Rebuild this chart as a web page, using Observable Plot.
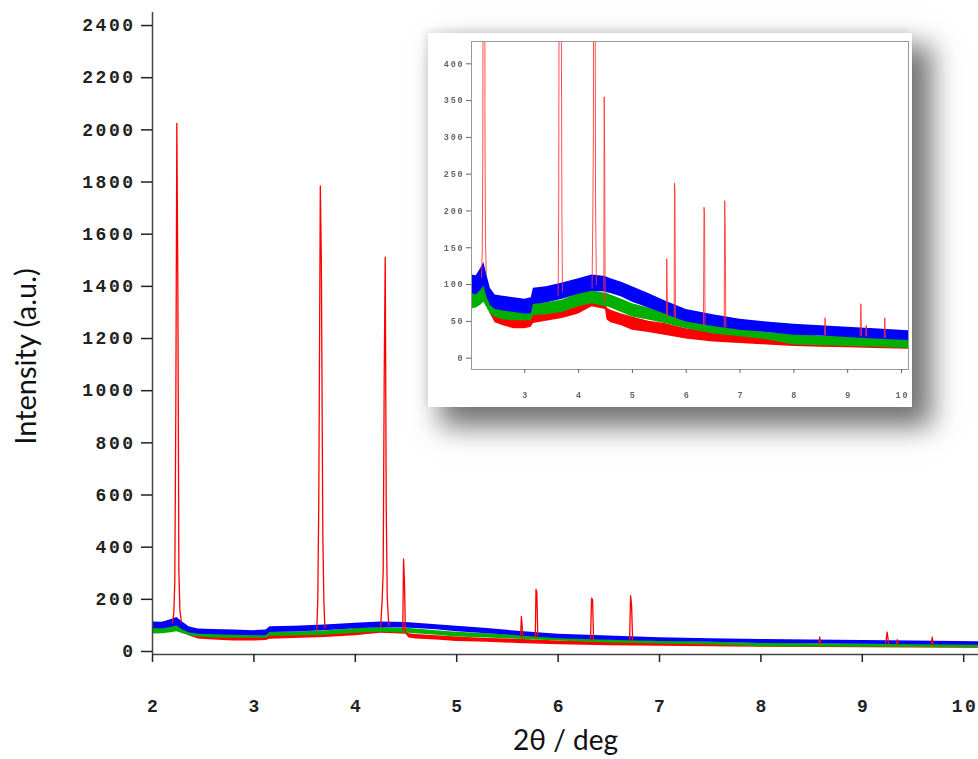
<!DOCTYPE html>
<html>
<head>
<meta charset="utf-8">
<script src="https://cdn.jsdelivr.net/npm/d3@7"></script>
<script src="https://cdn.jsdelivr.net/npm/@observablehq/plot@0.6"></script>
<style>
  body { margin: 0; background: #fff; }
  #wrap { position: relative; width: 978px; height: 759px; overflow: hidden; background: #fff; }
  #wrap > svg { position: absolute; left: 0; top: 0; }
  #inset {
    position: absolute; left: 428px; top: 33px; width: 484px; height: 374px;
    background: #fff;
    box-shadow: 16px 16px 26px 4px rgba(0,0,0,0.55), -3px -3px 6px rgba(0,0,0,0.08);
  }
  #inset svg { display: block; filter: blur(0.35px); }
</style>
</head>
<body>
<div id="wrap"><div id="inset"></div></div>
<script>
// ---- Data (2θ in degrees, intensity in a.u.) ----
const xGrid   = [2.00,2.10,2.18,2.24,2.30,2.36,2.45,2.60,2.80,3.00,3.12,3.16,3.40,3.70,4.00,4.25,4.50,4.53,4.60,4.80,5.00,5.30,5.60,6.00,6.50,7.00,7.50,8.00,8.50,9.00,9.50,10.15];
// noise envelopes (lower / upper) of each pattern
const blueLo  = [88,86,92,98,82,72,66,64,62,60,60,73,75,80,87,91,90,89,88,83,76,68,60,49,43,38,35,31,30,28,26,24];
const blueHi  = [113,112,122,130,112,95,86,84,82,80,82,95,97,102,108,113,111,110,108,103,97,88,78,66,59,53,49,46,44,42,40,37];
const greenLo = [67,68,72,76,68,60,56,52,51,51,51,58,59,62,70,74,70,70,68,62,56,52,47,40,33,29,25,18,17,16,15,13];
const greenHi = [88,90,96,100,90,78,72,68,67,66,67,74,75,79,88,92,88,88,86,80,74,68,62,54,45,40,35,32,30,29,28,26];
const redLo   = [85,92,100,110,80,60,48,44,40,40,42,47,50,54,60,70,66,52,48,44,38,35,31,26,22,20,18,16,15,14,13,12];
const redHi   = [102,112,120,125,105,80,64,58,56,58,58,65,66,70,79,88,84,68,65,60,56,50,47,40,35,33,31,30,28,27,26,25];
// Bragg reflections of the red pattern: [2θ, intensity] profile points
const redPeakProfiles = [
  [[2.195,110],[2.21,145],[2.22,270],[2.23,930],[2.24,2025],[2.25,1400],[2.26,310],[2.27,158],[2.285,115]],
  [[3.62,85],[3.63,196],[3.64,583],[3.655,1785],[3.665,1500],[3.68,437],[3.69,196],[3.70,90]],
  [[4.25,95],[4.265,200],[4.275,307],[4.285,1047],[4.295,1512],[4.305,556],[4.315,211],[4.33,100]],
  [[4.468,80],[4.476,355],[4.485,265],[4.494,75]],
  [[5.630,58],[5.638,135],[5.645,100],[5.652,58]],
  [[5.775,55],[5.782,238],[5.790,229],[5.800,55]],
  [[6.320,45],[6.330,205],[6.340,198],[6.350,45]],
  [[6.705,42],[6.715,214],[6.725,174],[6.735,42]],
  [[8.570,32],[8.580,55],[8.590,32]],
  [[9.230,30],[9.245,74],[9.260,30]],
  [[9.335,30],[9.345,45],[9.355,30]],
  [[9.680,28],[9.690,55],[9.700,28]]
];
// axes
const mainYTicks  = [0,200,400,600,800,1000,1200,1400,1600,1800,2000,2200,2400];
const mainXTicks  = [2,3,4,5,6,7,8,9,10];
const insetYTicks = [0,50,100,150,200,250,300,350,400];
const insetXTicks = [3,4,5,6,7,8,9,10];
const yTitle = "Intensity (a.u.)";
const xTitle = "2θ / deg";

// ---- colours ----
const RED = "#ff0000", GREEN = "#00b000", BLUE = "#0000ff";

const band = (lo, hi) => xGrid.map((x, i) => ({x, lo: lo[i], hi: hi[i]}));
const peakRows = redPeakProfiles.flatMap((p, k) => p.map(([x, y]) => ({x, y, k})));

function layers(sw, peakColor, peakOpacity) {
  return [
    Plot.areaY(band(redLo, redHi),     {x: "x", y1: "lo", y2: "hi", fill: RED, clip: true}),
    Plot.areaY(band(greenLo, greenHi), {x: "x", y1: "lo", y2: "hi", fill: GREEN, clip: true}),
    Plot.areaY(band(blueLo, blueHi),   {x: "x", y1: "lo", y2: "hi", fill: BLUE, clip: true}),
    Plot.line(peakRows, {x: "x", y: "y", z: "k", stroke: peakColor, strokeOpacity: peakOpacity, strokeWidth: sw, clip: true})
  ];
}

const mono = "'Liberation Mono', 'DejaVu Sans Mono', monospace";
const sans = "Lato, 'Open Sans', sans-serif";
const plain = d => String(d);

const main = Plot.plot({
  width: 978, height: 759,
  marginLeft: 152, marginRight: 0, marginTop: 12, marginBottom: 105,
  style: {background: "transparent", overflow: "visible"},
  x: {domain: [2, 10.146]},
  y: {domain: [-11.5, 2450]},
  marks: [
    ...layers(1.3, RED, 1),
    Plot.ruleX([2], {stroke: "#444", strokeWidth: 1.5}),
    Plot.ruleY([-11.5], {stroke: "#444", strokeWidth: 1.5}),
    Plot.axisY({ticks: mainYTicks, tickFormat: plain, tickSize: 11, tickPadding: 6, fontSize: 18, fontFamily: mono, fontWeight: "bold", color: "#222", label: null}),
    Plot.axisX({ticks: mainXTicks, tickFormat: plain, tickSize: 8, tickPadding: 37, fontSize: 18, fontFamily: mono, fontWeight: "bold", color: "#222", label: null}),
    Plot.text([yTitle], {text: d => d, frameAnchor: "left", textAnchor: "middle", rotate: -90, dx: -126, dy: 23, fontSize: 29, fontFamily: sans, fill: "#111"}),
    Plot.text([xTitle], {text: d => d, frameAnchor: "bottom", dy: 95, fontSize: 28, fontFamily: sans, fill: "#111"})
  ]
});
d3.select(main).selectAll('g[aria-label="y-axis tick label"] text').attr("letter-spacing", "2.5px");
d3.select(main).selectAll('g[aria-label="x-axis tick label"] text').attr("letter-spacing", "2.5px").attr("dx", "1.25px");
d3.select(main).selectAll('g[aria-label^="y-axis tick"] path, g[aria-label^="x-axis tick"] path').attr("stroke-width", 1.5);
document.getElementById("wrap").prepend(main);

const inset = Plot.plot({
  width: 484, height: 374,
  marginLeft: 43, marginRight: 4, marginTop: 8, marginBottom: 38,
  style: {background: "#fff"},
  x: {domain: [2.01, 10.13]},
  y: {domain: [-15.4, 430.3]},
  marks: [
    ...layers(1, "#ff3030", 0.85),
    Plot.frame({stroke: "#999"}),
    Plot.axisY({ticks: insetYTicks, tickFormat: plain, tickSize: 5, tickPadding: 2, fontSize: 8.5, fontFamily: mono, fontWeight: "bold", color: "#666", label: null}),
    Plot.axisX({ticks: insetXTicks, tickFormat: plain, tickSize: 4, tickPadding: 18, fontSize: 8.5, fontFamily: mono, fontWeight: "bold", color: "#666", label: null})
  ]
});
d3.select(inset).selectAll('g[aria-label="y-axis tick label"] text').attr("letter-spacing", "1.8px");
d3.select(inset).selectAll('g[aria-label="x-axis tick label"] text').attr("letter-spacing", "1.8px").attr("dx", "0.9px");
document.getElementById("inset").appendChild(inset);
</script>
</body>
</html>
